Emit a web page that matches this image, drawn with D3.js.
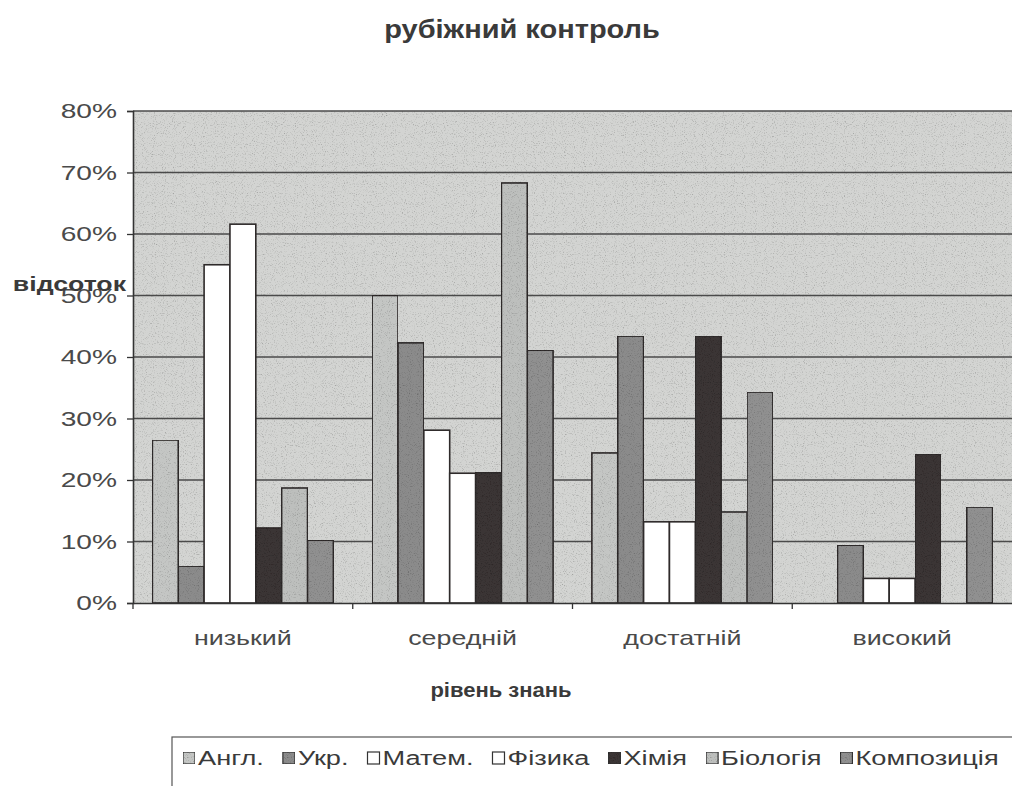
<!DOCTYPE html>
<html>
<head>
<meta charset="utf-8">
<script src="https://cdn.jsdelivr.net/npm/d3@7"></script>
<style>
  body { margin: 0; background: #fff; }
  text { font-family: "Liberation Sans", Arial, sans-serif; }
</style>
</head>
<body>
<div id="chart"></div>
<script>
const categories = ['низький', 'середній', 'достатній', 'високий'];
const subjects = ['Англ.', 'Укр.', 'Матем.', 'Фізика', 'Хімія', 'Біологія', 'Композиція'];
// values in % per subject, one entry per category
const angl = [26.5, 50, 24.4, 0];
const ukr = [6, 42.3, 43.4, 9.4];
const matem = [55, 28.1, 13.2, 4];
const fizyka = [61.6, 21.1, 13.2, 4];
const khimiya = [12.2, 21.2, 43.4, 24.2];
const biologiya = [18.7, 68.3, 14.8, 0];
const kompozytsiya = [10.2, 41.1, 34.3, 15.6];
const series = [angl, ukr, matem, fizyka, khimiya, biologiya, kompozytsiya];
const yTicks = [0, 10, 20, 30, 40, 50, 60, 70, 80];

const colors = ['#c4c6c4', '#8b8b8b', '#ffffff', '#ffffff', '#3b3636', '#bdbfbd', '#909090'];

const W = 1012, H = 786;
const m = {left: 133, right: 0, top: 111, bottom: 183};
const SX = 1.34; // scanned text is wider than it is tall

const svg = d3.select('#chart').append('svg')
  .attr('width', W).attr('height', H);

const defs = svg.append('defs');
const f = defs.append('filter').attr('id', 'grain')
  .attr('x', 0).attr('y', 0).attr('width', 1).attr('height', 1);
f.append('feTurbulence').attr('type', 'fractalNoise').attr('baseFrequency', 0.9)
  .attr('numOctaves', 2).attr('seed', 3).attr('result', 'n');
f.append('feColorMatrix').attr('in', 'n').attr('type', 'matrix')
  .attr('values', '0 0 0 0 0  0 0 0 0 0  0 0 0 0 0  0 0 0 -1.2 0.55').attr('result', 'a');
f.append('feComposite').attr('in', 'a').attr('in2', 'SourceGraphic').attr('operator', 'in').attr('result', 'g');
f.append('feMerge').selectAll('feMergeNode').data(['SourceGraphic', 'g']).join('feMergeNode')
  .attr('in', d => d);

const x0 = d3.scaleBand().domain(categories)
  .range([m.left, W - m.right]).paddingInner(0).paddingOuter(0);
// 7 bars + gap of 1.5 bar widths in each category
const gap = x0.bandwidth() * 0.75 / 8.5;
const x1 = d3.scaleBand().domain(d3.range(subjects.length))
  .range([gap, x0.bandwidth() - gap]).padding(0);
const y = d3.scaleLinear().domain([0, 80]).range([H - m.bottom, m.top]);

// plot background
svg.append('rect')
  .attr('x', m.left).attr('y', m.top)
  .attr('width', W - m.left - m.right).attr('height', H - m.bottom - m.top)
  .attr('fill', '#d3d4d2').attr('filter', 'url(#grain)');

// gridlines
svg.append('g')
  .selectAll('line').data(yTicks.slice(1)).join('line')
  .attr('x1', m.left).attr('x2', W - m.right)
  .attr('y1', d => y(d)).attr('y2', d => y(d))
  .attr('stroke', '#4a4a4a').attr('stroke-width', 1.5);

// bars
const groups = svg.append('g').selectAll('g').data(categories).join('g')
  .attr('transform', d => `translate(${x0(d)},0)`);
groups.selectAll('rect')
  .data((c, ci) => series.map((s, si) => ({si, v: s[ci]})).filter(d => d.v > 0))
  .join('rect')
  .attr('x', d => x1(d.si))
  .attr('width', x1.bandwidth())
  .attr('y', d => y(d.v))
  .attr('height', d => y(0) - y(d.v))
  .attr('fill', d => colors[d.si])
  .attr('filter', d => colors[d.si] === '#ffffff' ? null : 'url(#grain)')
  .attr('stroke', '#2e2a2a').attr('stroke-width', 1.6);

// y axis
const yAxis = svg.append('g')
  .attr('transform', `translate(${m.left},0)`)
  .call(d3.axisLeft(y).tickValues(yTicks).tickFormat(d => d + '%').tickSize(6).tickPadding(8));
yAxis.select('.domain').attr('stroke', '#333').attr('stroke-width', 1.6);
yAxis.selectAll('.tick line').attr('stroke', '#333').attr('stroke-width', 1.3);
yAxis.selectAll('text')
  .attr('x', -16 / SX)
  .attr('transform', `scale(${SX},1)`)
  .attr('font-size', 21).attr('fill', '#4a4a4a')
  .style('font-family', '"Liberation Sans", Arial, sans-serif');

// x axis
const xAxis = svg.append('g')
  .attr('transform', `translate(0,${H - m.bottom})`)
  .call(d3.axisBottom(x0).tickSize(0).tickPadding(28));
xAxis.select('.domain').attr('stroke', '#333').attr('stroke-width', 1.6);
xAxis.selectAll('text')
  .attr('transform', `scale(${SX},1)`)
  .attr('font-size', 20).attr('fill', '#4a4a4a')
  .style('font-family', '"Liberation Sans", Arial, sans-serif');
xAxis.selectAll('.sep').data(categories).join('line')
  .attr('class', 'sep')
  .attr('x1', d => x0(d)).attr('x2', d => x0(d))
  .attr('y1', 0).attr('y2', 6)
  .attr('stroke', '#333').attr('stroke-width', 1.3);

// titles
function label(txt, cx, cy, size, sx, anchor) {
  return svg.append('text')
    .attr('transform', `translate(${cx},${cy}) scale(${sx},1)`)
    .attr('text-anchor', anchor)
    .attr('font-size', size).attr('font-weight', 'bold').attr('fill', '#3a3a3a')
    .text(txt);
}
label('рубіжний контроль', 522, 38, 25, 1.16, 'middle');
label('рівень знань', 501, 697, 20, 1.1, 'middle');
label('відсоток', 126, 291, 21, 1.27, 'end');

// legend
svg.append('rect').attr('x', 172).attr('y', 737).attr('width', 860).attr('height', 70)
  .attr('fill', '#fff').attr('stroke', '#555').attr('stroke-width', 1.2);
const lg = svg.append('g').attr('transform', 'translate(183,765)');
const LSX = 1.36;
let lx = 0;
subjects.forEach((s, i) => {
  const it = lg.append('g').attr('transform', `translate(${lx},0)`);
  it.append('rect').attr('x', 0).attr('y', -13).attr('width', 12).attr('height', 12)
    .attr('fill', colors[i]).attr('stroke', '#333').attr('stroke-width', 1.2)
    .attr('filter', colors[i] === '#ffffff' ? null : 'url(#grain)');
  const t = it.append('text').attr('transform', `translate(15,0) scale(${LSX},1)`)
    .attr('font-size', 20).attr('fill', '#3a3a3a').text(s);
  lx += 15 + t.node().getComputedTextLength() * LSX + 19;
});
</script>
</body>
</html>
